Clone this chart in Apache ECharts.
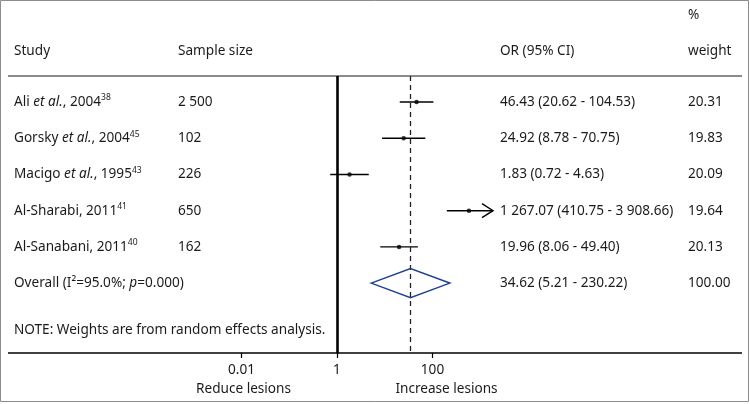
<!DOCTYPE html>
<html>
<head>
<meta charset="utf-8">
<script src="https://cdn.jsdelivr.net/npm/echarts@6/dist/echarts.min.js"></script>
<style>
html, body { margin: 0; padding: 0; background: #fff; }
#main { width: 750px; height: 404px; }
</style>
</head>
<body>
<div id="main"></div>
<script>
// study rows
var studyName = ['Ali', 'Gorsky', 'Macigo', 'Al-Sharabi', 'Al-Sanabani'];
var studyEtAl = [true, true, true, false, false];
var studyYear = [2004, 2004, 1995, 2011, 2011];
var studyRef = [38, 45, 43, 41, 40];
var sampleSize = [2500, 102, 226, 650, 162];
// estimates as drawn in the plot (Al-Sharabi's mark sits left of its printed value)
var orPlot = [46.43, 24.92, 1.83, 580, 19.96];
var ciLow = [20.62, 8.78, 0.72, 200, 8.06];
var ciHigh = [104.53, 70.75, 4.63, 3908.66, 49.40];
var orLabel = ['46.43 (20.62 - 104.53)', '24.92 (8.78 - 70.75)', '1.83 (0.72 - 4.63)',
  '1 267.07 (410.75 - 3 908.66)', '19.96 (8.06 - 49.40)'];
var weight = [20.31, 19.83, 20.09, 19.64, 20.13];
// pooled estimate
var overallOR = 34.62;
var overallLow = 5.21;
var overallHigh = 230.22;
var overallLabel = '34.62 (5.21 - 230.22)';
var overallWeight = 100;
// axis
var xTicks = [0.01, 1, 100];
var xMin = Math.pow(10, -3.267);
var xMax = Math.pow(10, 3.267);

var FONT = '"Noto Sans", "Open Sans", sans-serif';
var FS = 13.6;
var INK = '#1e1a1b';

function fmtSize(n) {
  return String(n).replace(/\B(?=(\d{3})+(?!\d))/g, ' ');
}

var ciData = [], ptData = [];
for (var i = 0; i < studyName.length; i++) {
  ciData.push([ciLow[i], ciHigh[i], i]);
  ptData.push([orPlot[i], i]);
}
var overallRow = studyName.length;
var noteRow = overallRow + 1.3;

function renderCI(params, api) {
  var y = api.value(2);
  var lo = Math.max(api.value(0), xMin);
  var hi = Math.min(api.value(1), xMax);
  var p1 = api.coord([lo, y]);
  var p2 = api.coord([hi, y]);
  var kids = [{
    type: 'line',
    shape: { x1: p1[0], y1: p1[1], x2: p2[0], y2: p2[1] },
    style: { stroke: '#000', lineWidth: 1.4 }
  }];
  if (api.value(1) > xMax) {
    kids.push({
      type: 'polyline',
      shape: { points: [[p2[0] - 11, p2[1] - 7], [p2[0], p2[1]], [p2[0] - 11, p2[1] + 7]] },
      style: { stroke: '#000', fill: null, lineWidth: 1.4 }
    });
  }
  return { type: 'group', children: kids };
}

function renderDiamond(params, api) {
  var y = api.value(3);
  var l = api.coord([api.value(0), y]);
  var c = api.coord([api.value(1), y]);
  var r = api.coord([api.value(2), y]);
  var h = 14.5;
  return {
    type: 'polygon',
    shape: { points: [[l[0], l[1]], [c[0], c[1] - h], [r[0], r[1]], [c[0], c[1] + h]] },
    style: { stroke: '#1f3f8f', fill: null, lineWidth: 1.5 }
  };
}

var chart = echarts.init(document.getElementById('main'));
chart.setOption({
  animation: false,
  grid: { left: 181, width: 312, top: 76, height: 277 },
  xAxis: {
    type: 'log',
    logBase: 10,
    min: xMin,
    max: xMax,
    axisLine: { show: false, onZero: false },
    splitLine: { show: false },
    axisTick: { show: true, customValues: xTicks, length: 5, lineStyle: { color: '#000', width: 1.2 } },
    axisLabel: {
      customValues: xTicks,
      margin: 10,
      color: INK,
      fontFamily: FONT,
      fontSize: FS,
      formatter: function (v) { return String(v); }
    }
  },
  yAxis: { type: 'value', inverse: true, min: -0.72, max: 6.93, show: false },
  series: [
    {
      type: 'custom',
      renderItem: renderCI,
      data: ciData,
      clip: false,
      encode: { x: [0, 1], y: 2 },
      silent: true,
      z: 3
    },
    {
      type: 'scatter',
      data: ptData,
      symbol: 'circle',
      symbolSize: 4.5,
      itemStyle: { color: '#000' },
      silent: true,
      z: 4,
      markLine: {
        silent: true,
        symbol: 'none',
        label: { show: false },
        data: [
          { xAxis: 1, lineStyle: { color: '#000', type: 'solid', width: 2.6 } },
          { xAxis: overallOR, lineStyle: { color: '#222', type: [5, 4], width: 1.3 } }
        ]
      }
    },
    {
      type: 'custom',
      renderItem: renderDiamond,
      data: [[overallLow, overallOR, overallHigh, overallRow]],
      clip: false,
      encode: { x: [0, 2], y: 3 },
      silent: true,
      z: 5
    }
  ]
});

// table text, rows placed through the y axis
function rowY(r) {
  return chart.convertToPixel({ yAxisIndex: 0 }, r);
}
var richStyles = {
  n: { fontFamily: FONT, fontSize: FS, fill: INK, verticalAlign: 'middle' },
  i: { fontFamily: FONT, fontSize: FS, fill: INK, fontStyle: 'italic', verticalAlign: 'middle' },
  s: { fontFamily: FONT, fontSize: 8.5, fill: INK, verticalAlign: 'middle', padding: [0, 0, 8, 0] }
};
function txt(x, y, s, align) {
  return {
    type: 'text', x: x, y: y, silent: true, z: 10,
    style: { text: s, font: FS + 'px ' + FONT, fill: INK, align: align || 'left', verticalAlign: 'middle' }
  };
}
function rich(x, y, s) {
  return {
    type: 'text', x: x, y: y, silent: true, z: 10,
    style: { text: s, rich: richStyles, font: FS + 'px ' + FONT, fill: INK, verticalAlign: 'middle' }
  };
}

var g = [];
g.push({ type: 'rect', z: -10, shape: { x: 0.5, y: 0.5, width: 748, height: 401 }, style: { stroke: '#8c8c8c', fill: 'none', lineWidth: 1 }, silent: true });
g.push({ type: 'line', z: -10, shape: { x1: 8, y1: 76, x2: 742, y2: 76 }, style: { stroke: '#8c8c8c', lineWidth: 2 }, silent: true });
g.push({ type: 'line', z: -10, shape: { x1: 8, y1: 353, x2: 742, y2: 353 }, style: { stroke: '#000', lineWidth: 1.4 }, silent: true });

g.push(txt(14, 51, 'Study'));
g.push(txt(178, 51, 'Sample size'));
g.push(txt(500, 51, 'OR (95% CI)'));
g.push(txt(688, 15, '%'));
g.push(txt(688, 51, 'weight'));

for (var k = 0; k < studyName.length; k++) {
  var y = rowY(k);
  var s = studyEtAl[k]
    ? '{n|' + studyName[k] + ' }{i|et al.}{n|, ' + studyYear[k] + '}{s|' + studyRef[k] + '}'
    : '{n|' + studyName[k] + ', ' + studyYear[k] + '}{s|' + studyRef[k] + '}';
  g.push(rich(14, y, s));
  g.push(txt(178, y, fmtSize(sampleSize[k])));
  g.push(txt(500, y, orLabel[k]));
  g.push(txt(688, y, weight[k].toFixed(2)));
}
var yo = rowY(overallRow);
g.push(rich(14, yo, '{n|Overall (I²=95.0%; }{i|p}{n|=0.000)}'));
g.push(txt(500, yo, overallLabel));
g.push(txt(688, yo, overallWeight.toFixed(2)));
g.push(txt(14, rowY(noteRow), 'NOTE: Weights are from random effects analysis.'));

var xr = chart.convertToPixel({ xAxisIndex: 0 }, 0.01);
var xi = chart.convertToPixel({ xAxisIndex: 0 }, 100);
g.push(txt(xr + 2, 389, 'Reduce lesions', 'center'));
g.push(txt(xi + 14, 389, 'Increase lesions', 'center'));

chart.setOption({ graphic: g });
</script>
</body>
</html>
